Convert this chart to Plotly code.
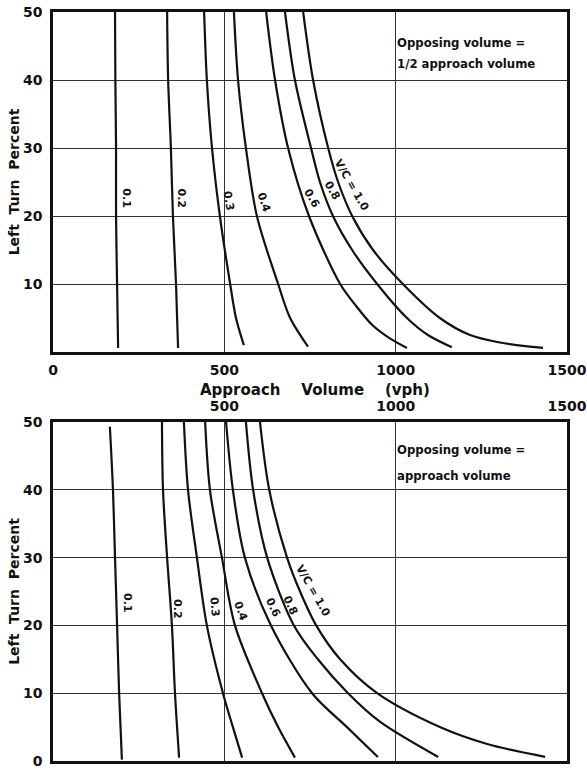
import plotly.graph_objects as go

W, H = 587, 771

# ---------------- data ----------------
vc_names = ["0.1", "0.2", "0.3", "0.4", "0.6", "0.8", "1.0"]

# Top chart: opposing volume = 1/2 approach volume
top_pct_01 = [50, 40, 30, 20, 10, 0.6]
top_vol_01 = [181, 182, 184, 184, 187, 190]
top_pct_02 = [50, 40, 30, 20, 10, 0.6]
top_vol_02 = [333, 336, 344, 350, 359, 365]
top_pct_03 = [50, 40, 30, 20, 10, 5, 1]
top_vol_03 = [441, 449, 464, 487, 517, 534, 557]
top_pct_04 = [50, 40, 30, 20, 10, 5, 0.8]
top_vol_04 = [528, 540, 563, 595, 657, 692, 744]
top_pct_06 = [50, 40, 30, 20, 10, 7, 4, 2, 0.6]
top_vol_06 = [622, 648, 686, 747, 838, 881, 931, 983, 1033]
top_pct_08 = [50, 40, 30, 25, 20, 15, 10, 5, 2.5, 0.7]
top_vol_08 = [677, 706, 753, 779, 817, 873, 946, 1033, 1094, 1164]
top_pct_10 = [50, 40, 30, 25, 20, 15, 10, 5, 2.5, 1.4, 0.6]
top_vol_10 = [730, 759, 803, 832, 873, 934, 1021, 1129, 1217, 1304, 1430]

# Bottom chart: opposing volume = approach volume
bot_pct_01 = [49.3, 40, 30, 20, 10, 0.2]
bot_vol_01 = [166, 175, 181, 187, 193, 201]
bot_pct_02 = [50, 40, 30, 20, 10, 0.5]
bot_vol_02 = [318, 321, 333, 347, 356, 368]
bot_pct_03 = [50, 40, 30, 20, 10, 5, 0.5]
bot_vol_03 = [382, 394, 420, 449, 496, 525, 552]
bot_pct_04 = [50, 40, 30, 20, 10, 5, 0.5]
bot_vol_04 = [444, 458, 493, 531, 610, 657, 706]
bot_pct_06 = [50, 40, 30, 20, 10, 5, 0.6]
bot_vol_06 = [505, 525, 560, 636, 756, 858, 948]
bot_pct_08 = [50, 40, 30, 20, 15, 10, 5.8, 0.6]
bot_vol_08 = [563, 584, 625, 703, 773, 861, 954, 1124]
bot_pct_10 = [50, 40, 30, 25, 20, 15, 10, 5, 2.5, 0.6]
bot_vol_10 = [604, 631, 683, 721, 768, 838, 946, 1129, 1267, 1436]

# curve label texts and anchor values (volume, percent, angle)
curve_labels = ["0.1", "0.2", "0.3", "0.4", "0.6", "0.8", "V/C = 1.0"]
top_label_vol = [216, 376, 514, 616, 756, 814, 870]
top_label_pct = [22.6, 22.6, 22.2, 22.0, 22.6, 23.7, 24.6]
top_label_ang = [90, 90, 80, 72, 60, 60, 60]
bot_label_vol = [219, 365, 473, 549, 642, 692, 759]
bot_label_pct = [23.3, 22.4, 22.7, 22.1, 22.6, 22.9, 25.2]
bot_label_ang = [90, 90, 84, 70, 65, 65, 60]

x_ticks_top = [0, 500, 1000, 1500]
x_ticks_bot = [500, 1000, 1500]
y_ticks_top = [10, 20, 30, 40, 50]
y_ticks_bot = [0, 10, 20, 30, 40, 50]

top_series = [(top_vol_01, top_pct_01), (top_vol_02, top_pct_02), (top_vol_03, top_pct_03),
              (top_vol_04, top_pct_04), (top_vol_06, top_pct_06), (top_vol_08, top_pct_08),
              (top_vol_10, top_pct_10)]
bot_series = [(bot_vol_01, bot_pct_01), (bot_vol_02, bot_pct_02), (bot_vol_03, bot_pct_03),
              (bot_vol_04, bot_pct_04), (bot_vol_06, bot_pct_06), (bot_vol_08, bot_pct_08),
              (bot_vol_10, bot_pct_10)]

# ---------------- figure ----------------
FONT = "DejaVu Sans"
fig = go.Figure()

curve_line = dict(color="#111111", width=2.2, shape="spline", smoothing=0.9)
for name, (vx, py) in zip(vc_names, top_series):
    fig.add_trace(go.Scatter(x=vx, y=py, mode="lines", name=name, xaxis="x", yaxis="y",
                             line=curve_line, showlegend=False, hoverinfo="skip"))
for name, (vx, py) in zip(vc_names, bot_series):
    fig.add_trace(go.Scatter(x=vx, y=py, mode="lines", name=name, xaxis="x2", yaxis="y2",
                             line=curve_line, showlegend=False, hoverinfo="skip"))

x0, x1 = 53 / W, 567 / W
top_dom = [1 - 352 / H, 1 - 12 / H]
bot_dom = [1 - 761 / H, 1 - 422 / H]

tickfont = dict(family=FONT, size=14, color="#111111", weight="bold")
common_axis = dict(showgrid=True, gridcolor="#333333", gridwidth=1.4, zeroline=False,
                   showline=True, mirror=True, linecolor="#111111", linewidth=2.6,
                   ticks="", tickfont=tickfont, fixedrange=True, automargin=False)
ytitle_font = dict(family=FONT, size=14, color="#111111", weight="bold")

fig.update_layout(
    width=W, height=H,
    margin=dict(l=0, r=0, t=0, b=0, autoexpand=False),
    paper_bgcolor="white", plot_bgcolor="white",
    xaxis=dict(domain=[x0, x1], range=[0, 1500], tickvals=x_ticks_top, anchor="y",
               ticklabelstandoff=3, **common_axis),
    yaxis=dict(domain=top_dom, range=[0, 50], tickvals=y_ticks_top, anchor="x",
               ticklabelstandoff=5,
               title=dict(text="Left\u00a0 Turn\u00a0 Percent", standoff=1, font=ytitle_font),
               **common_axis),
    xaxis2=dict(domain=[x0, x1], range=[0, 1500], tickvals=x_ticks_bot, anchor="y2",
                side="top", ticklabelstandoff=3, **common_axis),
    yaxis2=dict(domain=bot_dom, range=[0, 50], tickvals=y_ticks_bot, anchor="x2",
                ticklabelstandoff=5,
                title=dict(text="Left\u00a0 Turn\u00a0 Percent", standoff=1, font=ytitle_font),
                **common_axis),
)

annotations = []
# x-axis title between the two charts
annotations.append(dict(text="Approach\u00a0\u00a0\u00a0 Volume\u00a0\u00a0\u00a0 (vph)",
                        xref="paper", yref="paper",
                        x=315 / W, y=1 - 390 / H, showarrow=False, xanchor="center", yanchor="middle",
                        font=dict(family=FONT, size=15, color="#111111", weight="bold")))
# notes
note_font = dict(family=FONT, size=11.7, color="#111111", weight="bold")
annotations += [
    dict(text="Opposing volume =", xref="paper", yref="paper", x=395 / W, y=1 - 43 / H,
         showarrow=False, xanchor="left", yanchor="middle", font=note_font),
    dict(text="1/2 approach volume", xref="paper", yref="paper", x=395 / W, y=1 - 64 / H,
         showarrow=False, xanchor="left", yanchor="middle", font=note_font),
    dict(text="Opposing volume =", xref="paper", yref="paper", x=395 / W, y=1 - 450 / H,
         showarrow=False, xanchor="left", yanchor="middle", font=note_font),
    dict(text="approach volume", xref="paper", yref="paper", x=395 / W, y=1 - 476 / H,
         showarrow=False, xanchor="left", yanchor="middle", font=note_font),
]
label_font = dict(family=FONT, size=11, color="#111111", weight="bold")
for t, vx, py, a in zip(curve_labels, top_label_vol, top_label_pct, top_label_ang):
    annotations.append(dict(text=t, x=vx, y=py, xref="x", yref="y", textangle=a,
                            showarrow=False, font=label_font))
for t, vx, py, a in zip(curve_labels, bot_label_vol, bot_label_pct, bot_label_ang):
    annotations.append(dict(text=t, x=vx, y=py, xref="x2", yref="y2", textangle=a,
                            showarrow=False, font=label_font))

fig.update_layout(annotations=annotations)

fig.write_html("out.html", config={"displayModeBar": False},
               post_script="document.body.style.margin='0';document.body.style.overflow='hidden';")
